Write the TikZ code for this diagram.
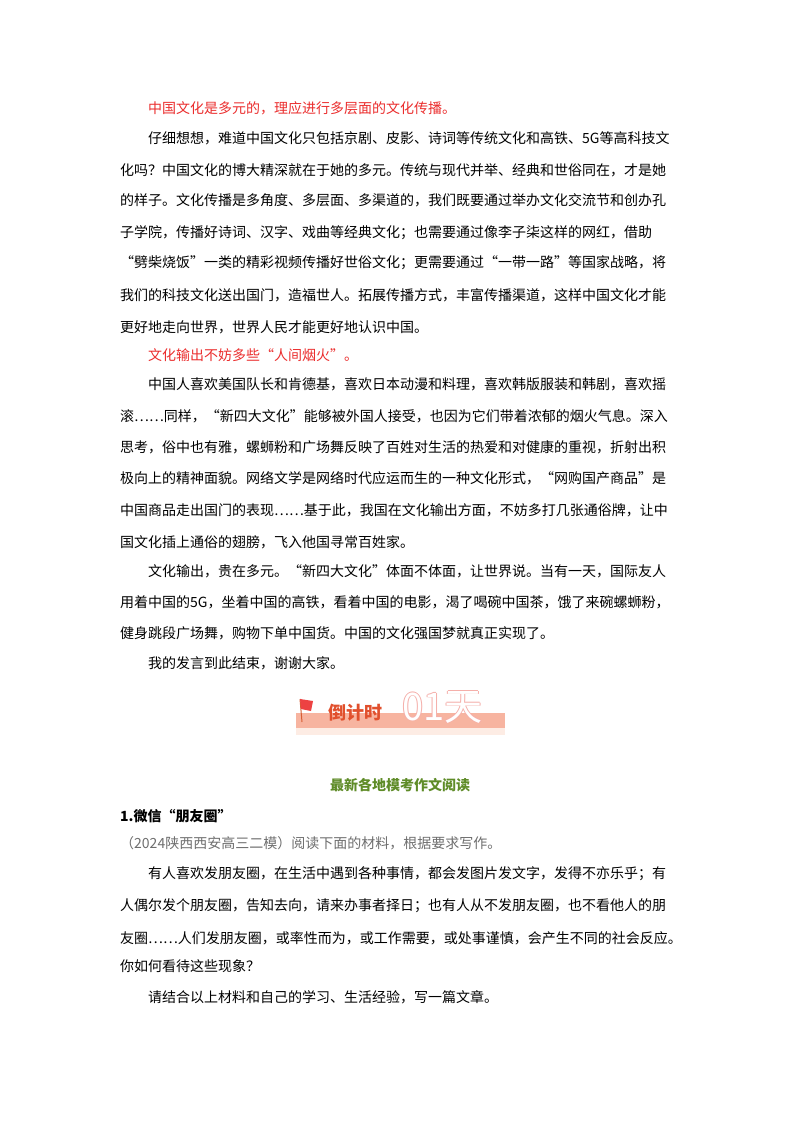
\documentclass[tikz,border=0pt]{standalone}
\usepackage{fontspec}
\setmainfont{Noto Sans CJK SC}
\definecolor{redtxt}{RGB}{235,45,45}
\definecolor{greentxt}{RGB}{95,140,40}
\definecolor{graytxt}{RGB}{110,110,110}
\definecolor{bar}{RGB}{247,180,160}
\definecolor{barlight}{RGB}{253,236,228}
\definecolor{orangetxt}{RGB}{225,80,45}
\definecolor{outl}{RGB}{245,175,170}
\tikzset{ln/.style={anchor=west,inner sep=0pt,font=\fontsize{14pt}{14pt}\selectfont},
 rd/.style={ln,text=redtxt}, gy/.style={ln,text=graytxt},
 big/.style={anchor=west,inner sep=0pt,font=\fontsize{38pt}{38pt}\selectfont}}
\begin{document}
\begin{tikzpicture}[x=1pt,y=-1pt]
\useasboundingbox[fill=white] (0,0) rectangle (800,1132);
\node[rd] (r1) at (148,108) {中国文化是多元的，理应进行多层面的文化传播。};
\node[ln] (a1) at (148,138) {仔细想想，难道中国文化只包括京剧、皮影、诗词等传统文化和高铁、5G等高科技文};
\node[ln] (a2) at (120,170) {化吗？中国文化的博大精深就在于她的多元。传统与现代并举、经典和世俗同在，才是她};
\node[ln] (a3) at (120,200) {的样子。文化传播是多角度、多层面、多渠道的，我们既要通过举办文化交流节和创办孔};
\node[ln] (a4) at (120,233) {子学院，传播好诗词、汉字、戏曲等经典文化；也需要通过像李子柒这样的网红，借助};
\node[ln] (a5) at (120,263) {“劈柴烧饭”一类的精彩视频传播好世俗文化；更需要通过“一带一路”等国家战略，将};
\node[ln] (a6) at (120,295) {我们的科技文化送出国门，造福世人。拓展传播方式，丰富传播渠道，这样中国文化才能};
\node[ln] (a7) at (120,327) {更好地走向世界，世界人民才能更好地认识中国。};
\node[rd] (r2) at (148,355) {文化输出不妨多些“人间烟火”。};
\node[ln] (b1) at (148,384) {中国人喜欢美国队长和肯德基，喜欢日本动漫和料理，喜欢韩版服装和韩剧，喜欢摇};
\node[ln] (b2) at (120,416) {滚……同样，“新四大文化”能够被外国人接受，也因为它们带着浓郁的烟火气息。深入};
\node[ln] (b3) at (120,447) {思考，俗中也有雅，螺蛳粉和广场舞反映了百姓对生活的热爱和对健康的重视，折射出积};
\node[ln] (b4) at (120,478) {极向上的精神面貌。网络文学是网络时代应运而生的一种文化形式，“网购国产商品”是};
\node[ln] (b5) at (120,510) {中国商品走出国门的表现……基于此，我国在文化输出方面，不妨多打几张通俗牌，让中};
\node[ln] (b6) at (120,542) {国文化插上通俗的翅膀，飞入他国寻常百姓家。};
\node[ln] (c1) at (148,571) {文化输出，贵在多元。“新四大文化”体面不体面，让世界说。当有一天，国际友人};
\node[ln] (c2) at (120,602) {用着中国的5G，坐着中国的高铁，看着中国的电影，渴了喝碗中国茶，饿了来碗螺蛳粉，};
\node[ln] (c3) at (120,633) {健身跳段广场舞，购物下单中国货。中国的文化强国梦就真正实现了。};
\node[ln] (c4) at (148,663) {我的发言到此结束，谢谢大家。};
% banner
\fill[barlight] (296,713) rectangle (505,735);
\fill[bar] (296,713) rectangle (505,728);
\draw[orangetxt!70!brown,line width=1pt] (300,699) -- (302,722);
\fill[redtxt!90] (300,699) -- (313,701) -- (311,711) -- (301,709) -- cycle;
\node[anchor=west,inner sep=0pt,text=orangetxt,font=\bfseries\fontsize{18pt}{18pt}\selectfont] (bt) at (328,713) {倒计时};
\foreach \dx/\dy in {-0.8/0,0.8/0,0/-0.8,0/0.8}
  \node[big,text=outl] at (402+\dx,707+\dy) {01天};
\node[big,text=white] (bn) at (402,707) {01天};
\node[text=greentxt,inner sep=0pt,font=\bfseries\fontsize{14pt}{14pt}\selectfont] (gt) at (400,785) {最新各地模考作文阅读};
\node[ln,font=\bfseries\fontsize{14pt}{14pt}\selectfont] (q1) at (120,816) {1.微信“朋友圈”};
\node[gy] (q2) at (120,843) {（2024陕西西安高三二模）阅读下面的材料，根据要求写作。};
\node[ln] (q3) at (148,874) {有人喜欢发朋友圈，在生活中遇到各种事情，都会发图片发文字，发得不亦乐乎；有};
\node[ln] (q4) at (120,906) {人偶尔发个朋友圈，告知去向，请来办事者择日；也有人从不发朋友圈，也不看他人的朋};
\node[ln] (q5) at (120,938) {友圈……人们发朋友圈，或率性而为，或工作需要，或处事谨慎，会产生不同的社会反应。};
\node[ln] (q6) at (120,966) {你如何看待这些现象？};
\node[ln] (q7) at (148,997) {请结合以上材料和自己的学习、生活经验，写一篇文章。};
\end{tikzpicture}
\end{document}
